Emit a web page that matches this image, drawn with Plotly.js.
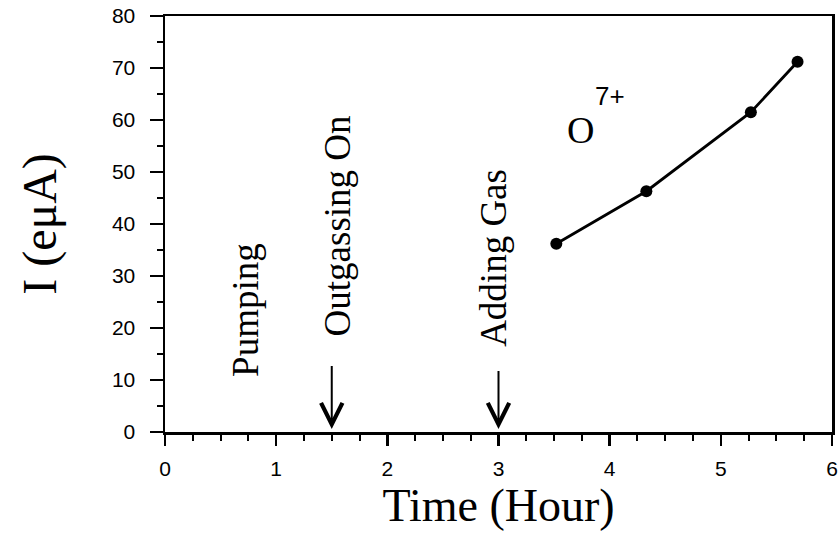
<!DOCTYPE html>
<html>
<head>
<meta charset="utf-8">
<script src="https://cdn.plot.ly/plotly-3.0.1.min.js"></script>
<style>html,body{margin:0;padding:0;background:#fff;}#chart{width:839px;height:536px;}</style>
</head>
<body>
<div id="chart"></div>
<script>
// Data
const timeHours = [3.52, 4.33, 5.27, 5.69];
const currentEuA = [36.2, 46.3, 61.5, 71.2];

const xTickVals = [0, 1, 2, 3, 4, 5, 6];
const yTickVals = [0, 10, 20, 30, 40, 50, 60, 70, 80];

const eventLabels = ["Pumping", "Outgassing On", "Adding Gas"];
const eventLabelX = [0.73, 1.55, 2.96];
const eventLabelY = [23.5, 39.6, 33.5];
const arrowX = [1.5, 3.0];
const arrowTailY = [13.0, 12.0];
const arrowTipY = [0.6, 0.6];

const trace = {
  x: timeHours,
  y: currentEuA,
  mode: 'lines+markers',
  type: 'scatter',
  line: {color: '#000', width: 2.8},
  marker: {color: '#000', size: 12},
  showlegend: false,
  hoverinfo: 'skip'
};

const serif = 'Liberation Serif, Times New Roman, serif';
const sans = 'Liberation Sans, Arial, sans-serif';

const annotations = [];
eventLabels.forEach((t, i) => {
  annotations.push({
    x: eventLabelX[i], y: eventLabelY[i], xref: 'x', yref: 'y',
    text: t, showarrow: false, textangle: -90,
    font: {family: serif, size: 37, color: '#000'}
  });
});
arrowX.forEach((ax, i) => {
  annotations.push({
    x: ax, y: arrowTipY[i], xref: 'x', yref: 'y',
    ax: ax, ay: arrowTailY[i], axref: 'x', ayref: 'y',
    text: '', showarrow: true, arrowhead: 5, arrowsize: 2.1, arrowwidth: 2,
    arrowcolor: '#000', standoff: 0, startstandoff: 0
  });
});
annotations.push({
  x: 3.74, y: 58.1, xref: 'x', yref: 'y', text: 'O', showarrow: false,
  font: {family: serif, size: 38, color: '#000'}
});
annotations.push({
  x: 4.0, y: 64.7, xref: 'x', yref: 'y', text: '7+', showarrow: false,
  font: {family: sans, size: 26, color: '#000'}
});

const layout = {
  width: 839, height: 536,
  margin: {l: 165, r: 7, t: 16, b: 104},
  paper_bgcolor: '#fff', plot_bgcolor: '#fff',
  xaxis: {
    range: [0, 6], tickvals: xTickVals, ticktext: xTickVals.map(String),
    ticks: 'outside', ticklen: 11, tickwidth: 2.5, tickcolor: '#000',
    minor: {dtick: 0.25, ticks: 'outside', ticklen: 6, tickwidth: 2, tickcolor: '#000'},
    showline: true, linewidth: 2.5, linecolor: '#000', mirror: true,
    showgrid: false, zeroline: false,
    tickfont: {family: sans, size: 21, color: '#000'},
    ticklabelstandoff: 5, ticklabeloverflow: 'allow',
    title: {text: 'Time (Hour)', font: {family: serif, size: 46, color: '#000'}, standoff: 8}
  },
  yaxis: {
    range: [0, 80], tickvals: yTickVals, ticktext: yTickVals.map(String),
    ticks: 'outside', ticklen: 13, tickwidth: 2.5, tickcolor: '#000',
    minor: {dtick: 5, ticks: 'outside', ticklen: 6, tickwidth: 2, tickcolor: '#000'},
    showline: true, linewidth: 2.5, linecolor: '#000', mirror: true,
    showgrid: false, zeroline: false,
    tickfont: {family: sans, size: 21, color: '#000'},
    ticklabelstandoff: 10,
    title: {text: 'I (eμA)', font: {family: serif, size: 48, color: '#000'}, standoff: 40}
  },
  annotations: annotations
};

Plotly.newPlot('chart', [trace], layout, {displayModeBar: false, staticPlot: true});
</script>
</body>
</html>
